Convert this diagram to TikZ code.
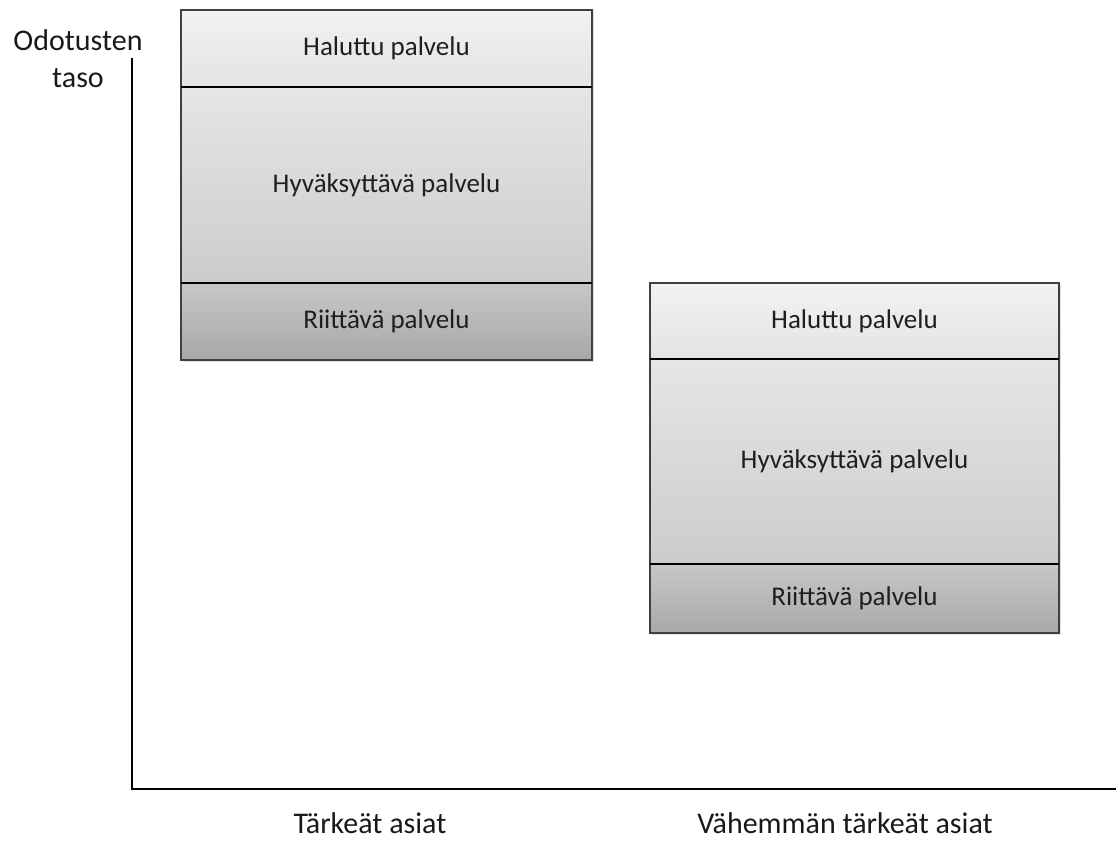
\documentclass[tikz,border=0pt]{standalone}
\usepackage{fontspec}
\setmainfont{Carlito}
\usetikzlibrary{shadows}
\begin{document}
\begin{tikzpicture}[x=1pt,y=-1pt,
  band/.style={rectangle, anchor=north west, inner sep=0pt, outer sep=0pt,
    font=\fontsize{27}{30}\selectfont, text=black!88},
  topband/.style={band, top color=black!5, bottom color=black!11},
  midband/.style={band, top color=black!10, bottom color=black!20},
  lowband/.style={band, top color=black!22, bottom color=black!34},
  frame/.style={draw=black!75, line width=1.4pt, fill=white,
    drop shadow={opacity=0.25, shadow xshift=1.5pt, shadow yshift=-1.5pt}},
  divider/.style={line width=1.8pt, black},
  axis/.style={line width=1.6pt, black},
  label/.style={font=\fontsize{30}{37}\selectfont, text=black!90}]
\useasboundingbox (0,0) rectangle (1116,843);

% left stack: important matters
\path[frame] (181,10) rectangle (592,360);
\node[topband, minimum width=411pt, minimum height=77pt] (h1) at (181,10) {Haluttu palvelu};
\node[midband, minimum width=411pt, minimum height=196pt] (a1) at (181,87) {Hyväksyttävä palvelu};
\node[lowband, minimum width=411pt, minimum height=77pt] (r1) at (181,283) {Riittävä palvelu};
\draw[draw=black!75, line width=1.4pt] (h1.north west) rectangle (r1.south east);
\draw[divider] (h1.south west) -- (h1.south east);
\draw[divider] (a1.south west) -- (a1.south east);

% right stack: less important matters
\path[frame] (650,283) rectangle (1059,633);
\node[topband, minimum width=409pt, minimum height=76pt] (h2) at (650,283) {Haluttu palvelu};
\node[midband, minimum width=409pt, minimum height=205pt] (a2) at (650,359) {Hyväksyttävä palvelu};
\node[lowband, minimum width=409pt, minimum height=69pt] (r2) at (650,564) {Riittävä palvelu};
\draw[draw=black!75, line width=1.4pt] (h2.north west) rectangle (r2.south east);
\draw[divider] (h2.south west) -- (h2.south east);
\draw[divider] (a2.south west) -- (a2.south east);

% axes
\coordinate (ytop) at (132,58);
\coordinate (origin) at (132,789);
\coordinate (xend) at (1116,789);
\draw[axis] (ytop) -- (origin) -- (xend);

% axis labels
\node[label, align=center] (ylab) at (78,59) {Odotusten\\taso};
\node[label, anchor=base, inner sep=0pt] (xlab1) at (370,833) {Tärkeät asiat};
\node[label, anchor=base, inner sep=0pt] (xlab2) at (845,833) {Vähemmän tärkeät asiat};
\end{tikzpicture}
\end{document}
